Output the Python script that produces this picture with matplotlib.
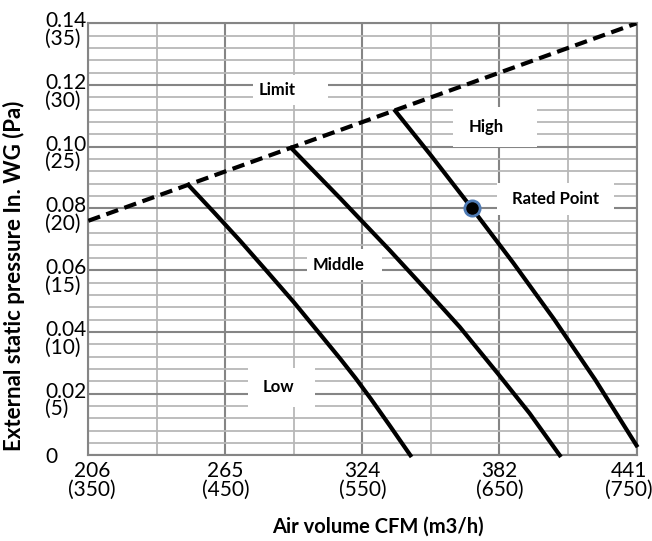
import matplotlib
matplotlib.use("Agg")
import matplotlib.pyplot as plt
from matplotlib.patches import Rectangle
from matplotlib.transforms import ScaledTranslation

# ---- data ----
flow_ticks = [350, 450, 550, 650, 750]          # m3/h
cfm_labels = ["206", "265", "324", "382", "441"]
pa_ticks = [0, 5, 10, 15, 20, 25, 30, 35]        # Pa
inwg_labels = ["0", "0.02", "0.04", "0.06", "0.08", "0.10", "0.12", "0.14"]

limit_flow = [350, 750]
limit_pa = [19.0, 35.0]

low_flow = [423, 442, 461, 480, 500, 517, 534, 545, 556, 570, 585]
low_pa = [21.9, 19.65, 17.35, 14.95, 12.4, 10.1, 7.8, 6.25, 4.6, 2.4, 0.0]

middle_flow = [498, 534, 570, 599, 621, 649, 672, 694]
middle_pa = [24.9, 20.8, 16.6, 13.1, 10.4, 6.6, 3.4, 0.0]

high_flow = [574, 600, 630, 660, 690, 720, 750]
high_pa = [27.9, 24.3, 20.0, 15.6, 11.0, 6.1, 0.8]

rated_flow = [630]
rated_pa = [20.0]

FONT = "Lato"
plt.rcParams["font.family"] = [FONT, "DejaVu Sans"]

W, H = 652, 541
fig = plt.figure(figsize=(W / 100, H / 100), dpi=100)
L, R, T, B = 88.3, 636.5, 23.3, 455.3
ax = fig.add_axes([L / W, 1 - B / H, (R - L) / W, (B - T) / H])

ax.set_xlim(350, 750)
ax.set_ylim(0, 35)

major_c = "#858585"
minor_c = "#b8b8b8"
# grid
for x in range(350, 751, 50):
    major = (x - 350) % 100 == 0
    ax.axvline(x, color=major_c if major else minor_c, lw=1.5 if major else 1.3, zorder=1)
for y in range(0, 36):
    major = y % 5 == 0
    ax.axhline(y, color=major_c if major else minor_c, lw=1.5 if major else 1.3, zorder=1)
for s in ax.spines.values():
    s.set_color(major_c)
    s.set_linewidth(1.5)

# ticks
ax.set_xticks(flow_ticks)
ax.set_xticklabels([f"{c}\n({f})" for c, f in zip(cfm_labels, flow_ticks)])
ax.set_yticks(pa_ticks)
ylabs = [w if p == 0 else f"{w}\n({p})" for w, p in zip(inwg_labels, pa_ticks)]
ax.set_yticklabels(ylabs)
ax.tick_params(axis="x", length=0, pad=4, labelsize=15)
ax.tick_params(axis="y", length=0, pad=31, labelsize=15)
xl = ax.get_xticklabels()
for lab in xl:
    lab.set_multialignment("center")
    lab.set_linespacing(0.95)
xl[0].set_transform(xl[0].get_transform() + ScaledTranslation(4 / 100, 0, fig.dpi_scale_trans))
xl[-1].set_transform(xl[-1].get_transform() + ScaledTranslation(-8 / 100, 0, fig.dpi_scale_trans))
for lab in ax.get_yticklabels():
    lab.set_ha("left")
    lab.set_multialignment("left")
    lab.set_linespacing(0.85)
    if "\n" in lab.get_text():
        lab.set_transform(lab.get_transform() + ScaledTranslation(0, -6 / 100, fig.dpi_scale_trans))

# curves
ax.plot(limit_flow, limit_pa, color="black", lw=3, ls=(0, (3, 1.6)), zorder=4, solid_capstyle="butt")
for fx, py in [(low_flow, low_pa), (middle_flow, middle_pa), (high_flow, high_pa)]:
    ax.plot(fx, py, color="black", lw=3, zorder=4, solid_joinstyle="round", clip_on=False)
ax.plot(rated_flow, rated_pa, "o", ms=11, mfc="black", mec="#4f7bb5", mew=2, zorder=5)

# label boxes
boxes = [
    ("Limit", 470.0, 524.7, 28.4, 30.8, 474.4),
    ("Middle", 509.6, 564.3, 14.2, 16.7, 514.0),
    ("Low", 466.5, 515.4, 3.9, 7.1, 477.5),
    ("High", 616.1, 677.4, 25.0, 28.2, 627.8),
    ("Rated Point", 648.2, 733.6, 19.5, 22.1, 659.1),
]
for txt, x0, x1, y0, y1, tx in boxes:
    ax.add_patch(Rectangle((x0, y0), x1 - x0, y1 - y0, facecolor="white", edgecolor="none", zorder=3))
    ax.text(tx, (y0 + y1) / 2, txt, fontsize=12, fontweight="bold", ha="left", va="center", zorder=6)

fig.text(378 / W, 1 - 527 / H, "Air volume CFM (m3/h)", fontsize=14.5, fontweight="bold",
         ha="center", va="center")
fig.text(14 / W, 1 - 276 / H, "External static pressure In. WG (Pa)", fontsize=16,
         fontweight="bold", ha="center", va="center", rotation=90)

fig.savefig("out.png", dpi=100)
